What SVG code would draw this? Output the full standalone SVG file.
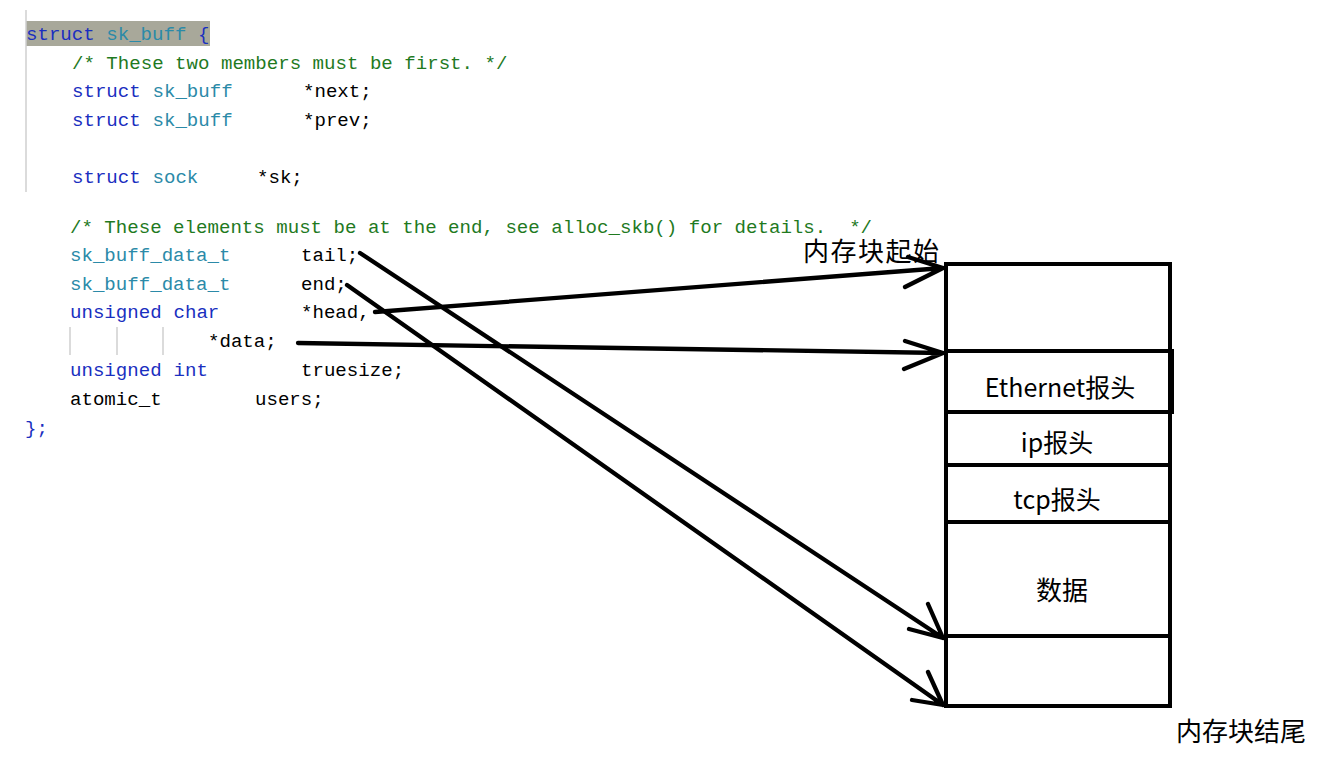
<svg xmlns="http://www.w3.org/2000/svg" width="1317" height="784" viewBox="0 0 1317 784">
<defs>
<style>
.code{font-family:"Liberation Mono","DejaVu Sans Mono",monospace;font-size:19.1px;fill:#000}
.kw{fill:#1a2fc0}
.ty{fill:#2b8aa8}
.cm{fill:#1f7a1f}
.lbl{font-family:"Noto Sans CJK SC","Noto Sans",sans-serif;font-size:25px;fill:#000}
.box{fill:#fff;stroke:#000;stroke-width:4}
.div{stroke:#000;stroke-width:4}
.conn{fill:none;stroke:#000;stroke-width:4.3;stroke-linecap:round;stroke-linejoin:round}
.guide{stroke:#cfcfcf;stroke-width:1.5}
</style>
</defs>
<rect width="1317" height="784" fill="#fff"/>
<g id="code">
<rect x="26" y="21" width="184" height="25" fill="#a8a89a"/>
<line class="guide" x1="26" y1="10" x2="26" y2="192"/>
<line class="guide" x1="70" y1="327" x2="70" y2="355"/>
<line class="guide" x1="117" y1="327" x2="117" y2="355"/>
<line class="guide" x1="163" y1="327" x2="163" y2="355"/>
<text class="code" x="26" y="40"><tspan class="kw">struct</tspan> <tspan class="ty">sk_buff</tspan> <tspan class="kw">{</tspan></text>
<text class="code cm" x="72" y="69">/* These two members must be first. */</text>
<text class="code" y="97"><tspan x="72" class="kw">struct</tspan><tspan x="152.5" class="ty">sk_buff</tspan><tspan x="303">*next;</tspan></text>
<text class="code" y="126"><tspan x="72" class="kw">struct</tspan><tspan x="152.5" class="ty">sk_buff</tspan><tspan x="303">*prev;</tspan></text>
<text class="code" y="183"><tspan x="72" class="kw">struct</tspan><tspan x="152.5" class="ty">sock</tspan><tspan x="257">*sk;</tspan></text>
<text class="code cm" x="70" y="233" xml:space="preserve">/* These elements must be at the end, see alloc_skb() for details.  */</text>
<text class="code" y="261"><tspan x="70" class="ty">sk_buff_data_t</tspan><tspan x="301">tail;</tspan></text>
<text class="code" y="290"><tspan x="70" class="ty">sk_buff_data_t</tspan><tspan x="301">end;</tspan></text>
<text class="code" y="318"><tspan x="70" class="kw">unsigned</tspan><tspan x="173.5" class="kw">char</tspan><tspan x="301">*head,</tspan></text>
<text class="code" y="347"><tspan x="208">*data;</tspan></text>
<text class="code" y="376"><tspan x="70" class="kw">unsigned</tspan><tspan x="173.5" class="kw">int</tspan><tspan x="301">truesize;</tspan></text>
<text class="code" y="405"><tspan x="70">atomic_t</tspan><tspan x="255">users;</tspan></text>
<text class="code kw" x="25" y="434">};</text>
</g>
<g id="memory-block">
<rect class="box" x="946" y="264" width="224" height="442"/>
<rect x="946" y="351" width="226" height="61" fill="none" stroke="#000" stroke-width="4"/>
<line class="div" x1="946" y1="465" x2="1170" y2="465"/>
<line class="div" x1="946" y1="522" x2="1170" y2="522"/>
<line class="div" x1="946" y1="636" x2="1170" y2="636"/>
</g>
<g id="labels">
<text class="lbl" x="803" y="261" style="font-size:26px;letter-spacing:1.5px">内存块起始</text>
<text class="lbl" x="1060" y="397" text-anchor="middle">Ethernet报头</text>
<text class="lbl" x="1057" y="452" text-anchor="middle">ip报头</text>
<text class="lbl" x="1057" y="509" text-anchor="middle">tcp报头</text>
<text class="lbl" x="1062" y="600" text-anchor="middle" style="font-size:26px">数据</text>
<text class="lbl" x="1176" y="741" style="font-size:26px">内存块结尾</text>
</g>
<g id="connectors">
<path class="conn" d="M375 312 L943 268 M908 257 L943 268 L905 287"/>
<path class="conn" d="M298 343 L943 353 M905 341 L943 353 L904 369"/>
<path class="conn" d="M360 253 L943 638 M928 604 L943 638 L909 629"/>
<path class="conn" d="M347 285 L943 705 M928 672 L943 705 L912 700"/>
</g>
</svg>
